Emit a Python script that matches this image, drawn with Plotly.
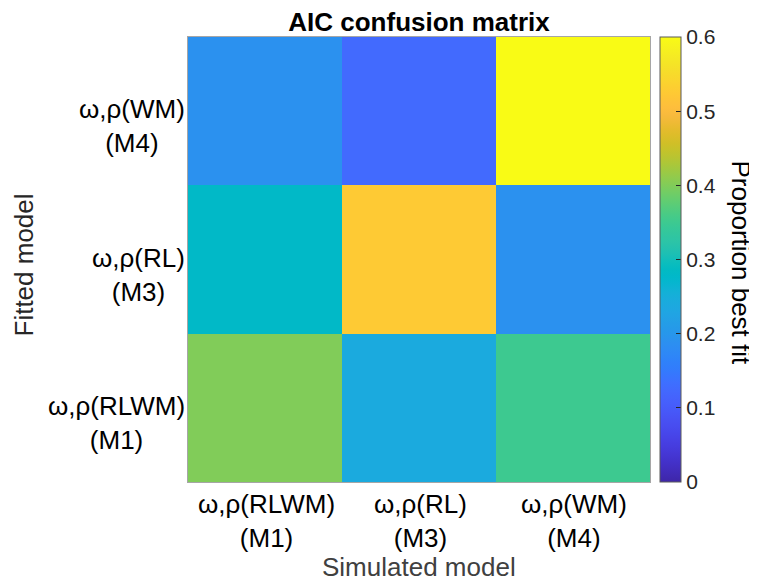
import plotly.graph_objects as go

# Data
sim_models = ["ω,ρ(RLWM)<br>(M1)", "ω,ρ(RL)<br>(M3)", "ω,ρ(WM)<br>(M4)"]
fit_models = ["ω,ρ(RLWM)<br>(M1)", "ω,ρ(RL)<br>(M3)", "ω,ρ(WM)<br>(M4)"]  # bottom to top
prop_fit_M1 = [0.40, 0.24, 0.35]
prop_fit_M3 = [0.28, 0.525, 0.19]
prop_fit_M4 = [0.19, 0.125, 0.60]
cbar_ticks = [0, 0.1, 0.2, 0.3, 0.4, 0.5, 0.6]

parula = [
    (0.2422, 0.1504, 0.6603), (0.2504, 0.1650, 0.7076), (0.2578, 0.1818, 0.7511), (0.2647, 0.1978, 0.7952),
    (0.2706, 0.2147, 0.8364), (0.2751, 0.2342, 0.8710), (0.2783, 0.2559, 0.8991), (0.2803, 0.2782, 0.9221),
    (0.2813, 0.3006, 0.9414), (0.2810, 0.3228, 0.9579), (0.2795, 0.3447, 0.9717), (0.2760, 0.3667, 0.9829),
    (0.2699, 0.3892, 0.9906), (0.2602, 0.4123, 0.9952), (0.2440, 0.4358, 0.9988), (0.2206, 0.4603, 0.9973),
    (0.1963, 0.4847, 0.9892), (0.1834, 0.5074, 0.9798), (0.1786, 0.5289, 0.9682), (0.1764, 0.5499, 0.9520),
    (0.1687, 0.5703, 0.9359), (0.1540, 0.5902, 0.9218), (0.1460, 0.6091, 0.9079), (0.1380, 0.6276, 0.8973),
    (0.1248, 0.6459, 0.8883), (0.1113, 0.6635, 0.8763), (0.0952, 0.6798, 0.8598), (0.0689, 0.6948, 0.8394),
    (0.0297, 0.7082, 0.8163), (0.0036, 0.7203, 0.7917), (0.0067, 0.7312, 0.7660), (0.0433, 0.7411, 0.7394),
    (0.0964, 0.7500, 0.7120), (0.1408, 0.7584, 0.6842), (0.1717, 0.7670, 0.6554), (0.1938, 0.7758, 0.6251),
    (0.2161, 0.7843, 0.5923), (0.2470, 0.7918, 0.5567), (0.2906, 0.7973, 0.5188), (0.3406, 0.8008, 0.4789),
    (0.3909, 0.8029, 0.4354), (0.4456, 0.8024, 0.3909), (0.5044, 0.7993, 0.3480), (0.5616, 0.7942, 0.3045),
    (0.6174, 0.7876, 0.2612), (0.6720, 0.7793, 0.2227), (0.7242, 0.7698, 0.1910), (0.7738, 0.7598, 0.1646),
    (0.8203, 0.7498, 0.1535), (0.8634, 0.7406, 0.1596), (0.9035, 0.7330, 0.1774), (0.9393, 0.7288, 0.2100),
    (0.9728, 0.7298, 0.2394), (0.9956, 0.7434, 0.2371), (0.9970, 0.7659, 0.2199), (0.9952, 0.7893, 0.2028),
    (0.9892, 0.8136, 0.1885), (0.9786, 0.8386, 0.1766), (0.9676, 0.8639, 0.1643), (0.9610, 0.8890, 0.1537),
    (0.9597, 0.9135, 0.1423), (0.9628, 0.9373, 0.1265), (0.9691, 0.9606, 0.1064), (0.9769, 0.9839, 0.0805),
]
n = len(parula)
colorscale = [[i / (n - 1), "rgb(%d,%d,%d)" % tuple(round(c * 255) for c in rgb)] for i, rgb in enumerate(parula)]

FONT = "Liberation Sans, Arial, Helvetica, sans-serif"
W, H = 749, 575  # page adds 8px body margin

fig = go.Figure(go.Heatmap(
    x=sim_models,
    y=fit_models,
    z=[prop_fit_M1, prop_fit_M3, prop_fit_M4],
    zmin=0, zmax=0.6,
    colorscale=colorscale,
    hoverinfo="skip",
    colorbar=dict(
        x=1.0216, xanchor="left", xpad=0,
        y=0.5, yanchor="middle", len=1, lenmode="fraction", ypad=0,
        thickness=21, thicknessmode="pixels",
        outlinecolor="#5a5a5a", outlinewidth=1,
        tickvals=cbar_ticks, ticktext=[str(t) for t in cbar_ticks],
        ticks="inside", ticklen=5, tickcolor="#262626",
        tickfont=dict(family=FONT, size=21, color="#262626"),
    ),
))

fig.update_layout(
    width=W, height=H,
    margin=dict(l=180, r=107, t=29, b=101),
    paper_bgcolor="white", plot_bgcolor="white",
    font=dict(family=FONT, size=26, color="#000000"),
    title=dict(text="<b>AIC confusion matrix</b>", x=0.5, xref="paper", xanchor="center",
               y=1 - 14 / H, yref="container", yanchor="middle",
               font=dict(family=FONT, size=26, color="#000000")),
    xaxis=dict(
        type="category", showline=True, mirror=True, linecolor="#a6a6a6", linewidth=1,
        ticks="", showgrid=False, zeroline=False, showticklabels=False,
    ),
    yaxis=dict(
        type="category", showline=True, mirror=True, linecolor="#a6a6a6", linewidth=1,
        ticks="", showgrid=False, zeroline=False, showticklabels=False,
    ),
)

# x tick labels
for m in sim_models:
    fig.add_annotation(text=m, xref="x", yref="paper", x=m, y=0, xanchor="center", yanchor="middle",
                       align="center", xshift=1, yshift=-39, showarrow=False,
                       font=dict(family=FONT, size=26, color="#000000"))

# y tick labels (centered multi-line, right-aligned block)
for m in fit_models:
    fig.add_annotation(text=m, xref="paper", yref="y", x=0, y=m, xanchor="right", yanchor="middle",
                       align="center", xshift=-1, yshift=-15, showarrow=False,
                       font=dict(family=FONT, size=26, color="#000000"))

fig.add_annotation(text="Simulated model", xref="paper", yref="paper", x=0.5, y=0, xanchor="center",
                   yanchor="middle", yshift=-85, showarrow=False,
                   font=dict(family=FONT, size=26, color="#404040"))

fig.add_annotation(text="Fitted model", xref="paper", yref="paper", x=0, y=0.5, xanchor="center",
                   yanchor="middle", textangle=-90, xshift=-165, yshift=-6, showarrow=False,
                   font=dict(family=FONT, size=26, color="#262626"))

fig.add_annotation(text="Proportion best fit", xref="paper", yref="paper", x=1, y=0.5, xanchor="center",
                   yanchor="middle", textangle=90, xshift=91, yshift=-3, showarrow=False,
                   font=dict(family=FONT, size=26, color="#000000"))

fig.write_html("out.html")
